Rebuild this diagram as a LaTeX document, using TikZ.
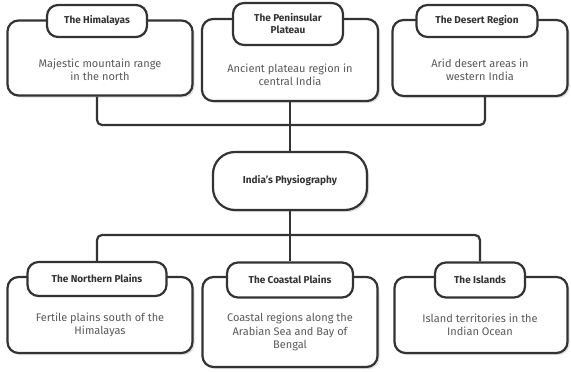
\documentclass[tikz,border=0pt]{standalone}
\usepackage{fontspec}
\setmainfont{Fira Sans}
\usetikzlibrary{shadows}
\definecolor{inkgray}{HTML}{333333}
\definecolor{textgray}{HTML}{5A5A5A}
\tikzset{
	regionbox/.style={draw=inkgray, line width=2.2pt, fill=white, rounded corners=11pt,
		drop shadow={opacity=0.25, shadow xshift=2pt, shadow yshift=-2pt}},
	titlepill/.style={draw=inkgray, line width=2.2pt, fill=white, rounded corners=11pt,
		font=\fontsize{10}{12}\selectfont\bfseries, text=inkgray, align=center, inner sep=0pt},
	rootpill/.style={titlepill, rounded corners=22pt,
		drop shadow={opacity=0.25, shadow xshift=2pt, shadow yshift=-2pt}},
	desc/.style={font=\fontsize{11}{13.5}\selectfont, text=textgray, align=center},
	link/.style={draw=inkgray, line width=2.2pt, rounded corners=5pt},
}
\begin{document}
\begin{tikzpicture}[x=1pt,y=-1pt]
	\useasboundingbox[fill=white] (0,0) rectangle (571,372);
	\coordinate (hubtop) at (290,125);
	\coordinate (hubbot) at (290,235);
	% upper regions
	\node[regionbox, minimum width=185pt, minimum height=75pt] (himbox) at (100,58) {};
	\node[regionbox, minimum width=176pt, minimum height=82pt] (penbox) at (290,60) {};
	\node[regionbox, minimum width=175pt, minimum height=76pt] (desbox) at (480,58) {};
	% lower regions
	\node[regionbox, minimum width=185pt, minimum height=76pt] (norbox) at (100,315) {};
	\node[regionbox, minimum width=175pt, minimum height=90pt] (coabox) at (290,322) {};
	\node[regionbox, minimum width=173pt, minimum height=76pt] (islbox) at (481,315) {};
	% connectors
	\draw[link] (himbox.south -| 97,0) |- (hubtop) -| (desbox.south -| 485,0);
	\draw[link] (penbox.south) -- (hubtop);
	\node[rootpill, minimum width=154pt, minimum height=58pt] (root) at (290,181) {India's Physiography};
	\draw[link] (hubtop) -- (root.north);
	\draw[link] (root.south) -- (hubbot);
	\node[titlepill, minimum width=139pt, minimum height=34pt] (nortitle) at (97,279) {The Northern Plains};
	\node[titlepill, minimum width=126pt, minimum height=35pt] (coatitle) at (290,280) {The Coastal Plains};
	\node[titlepill, minimum width=90pt, minimum height=35pt] (isltitle) at (480,280) {The Islands};
	\draw[link] (nortitle.north) |- (hubbot) -| (isltitle.north);
	\draw[link] (hubbot) -- (coatitle.north);
	% titles and texts
	\node[titlepill, minimum width=100pt, minimum height=32pt] (himtitle) at (97,21) {The Himalayas};
	\node[titlepill, minimum width=110pt, minimum height=42pt] (pentitle) at (288,24) {The Peninsular\\Plateau};
	\node[titlepill, minimum width=121pt, minimum height=32pt] (destitle) at (477,21) {The Desert Region};
	\node[desc] (himtext) at (100,70) {Majestic mountain range\\in the north};
	\node[desc] (pentext) at (290,75) {Ancient plateau region in\\central India};
	\node[desc] (destext) at (480,70) {Arid desert areas in\\western India};
	\node[desc] (nortext) at (100,325) {Fertile plains south of the\\Himalayas};
	\node[desc] (coatext) at (290,332) {Coastal regions along the\\Arabian Sea and Bay of\\Bengal};
	\node[desc] (isltext) at (480,325) {Island territories in the\\Indian Ocean};
\end{tikzpicture}
\end{document}
